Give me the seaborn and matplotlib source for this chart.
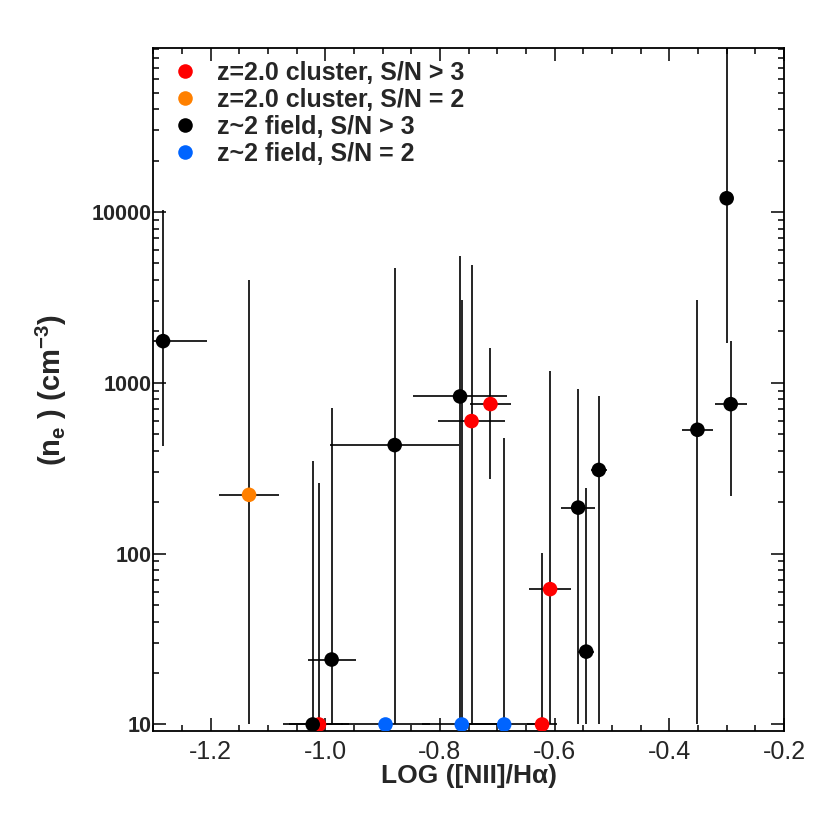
import numpy as np
import pandas as pd
import seaborn as sns
import matplotlib
matplotlib.use("Agg")
import matplotlib.pyplot as plt
from matplotlib.ticker import MultipleLocator, LogLocator, NullFormatter

# ---- data (x = log([NII]/Ha), y = n_e, errors as low/high values)
groups = ["z=2.0 cluster, S/N > 3", "z=2.0 cluster, S/N = 2",
          "z~2 field, S/N > 3", "z~2 field, S/N = 2"]
colors = ["#ff0000", "#ff8000", "#000000", "#0064ff"]

red_x = [-1.011, -0.745, -0.712, -0.608, -0.622]
red_y = [10, 597, 751, 62, 10]
red_xerr = [0.052, 0.058, 0.036, 0.036, 0.026]
red_ylo = [10, 10, 273, 10, 10]
red_yhi = [258, 4900, 1596, 1175, 101]

orange_x = [-1.133]
orange_y = [221]
orange_xerr = [0.052]
orange_ylo = [10]
orange_yhi = [4000]

black_x = [-1.283, -1.022, -0.989, -0.879, -0.765, -0.559, -0.545, -0.523, -0.351, -0.293, -0.300]
black_y = [1754, 10, 24, 432, 832, 186, 26.7, 309, 531, 750, 12030]
black_xerr = [0.076, 0.052, 0.042, 0.113, 0.082, 0.030, 0.014, 0.0145, 0.027, 0.028, 0.0]
black_ylo = [424, 10, 10, 10, 10, 10, 10, 10, 10, 218, 1714]
black_yhi = [10280, 350, 708, 4710, 5530, 923, 242, 832, 3050, 1762, 1e6]

blue_x = [-0.895, -0.762, -0.688]
blue_y = [10, 10, 10]
blue_xerr = [0.078, 0.070, 0.061]
blue_ylo = [10, 10, 10]
blue_yhi = [10, 3050, 475]

ytick_vals = [10, 100, 1000, 10000]
ytick_labels = ["10", "100", "1000", "10000"]
xtick_vals = [-1.2, -1.0, -0.8, -0.6, -0.4, -0.2]
xtick_labels = ["-1.2", "-1.0", "-0.8", "-0.6", "-0.4", "-0.2"]


def main():
    sns.set_theme(style="ticks")
    plt.rcParams['font.family'] = ['Liberation Sans', 'DejaVu Sans']
    plt.rcParams['mathtext.fontset'] = 'custom'
    plt.rcParams['mathtext.rm'] = 'Liberation Sans'
    plt.rcParams['mathtext.bf'] = 'Liberation Sans:bold'

    sets = [(red_x, red_y, red_xerr, red_ylo, red_yhi),
            (orange_x, orange_y, orange_xerr, orange_ylo, orange_yhi),
            (black_x, black_y, black_xerr, black_ylo, black_yhi),
            (blue_x, blue_y, blue_xerr, blue_ylo, blue_yhi)]

    frames = []
    for g, (x, y, xe, lo, hi) in zip(groups, sets):
        frames.append(pd.DataFrame({"x": x, "y": y, "xerr": xe, "ylo": lo, "yhi": hi, "group": g}))
    df = pd.concat(frames, ignore_index=True)

    fig = plt.figure(figsize=(8.3, 8.3), dpi=100)
    ax = fig.add_axes([0.1847, 0.1187, 0.7599, 0.8233])

    # error bars first, all black
    yerr = np.vstack([df["y"] - df["ylo"], df["yhi"] - df["y"]])
    ax.errorbar(df["x"], df["y"], xerr=df["xerr"], yerr=yerr, fmt="none",
                ecolor="black", elinewidth=1.2, capsize=0, zorder=2)

    sns.scatterplot(data=df, x="x", y="y", hue="group", hue_order=groups,
                    palette=dict(zip(groups, colors)), s=110, edgecolor="none",
                    linewidth=0, zorder=3, ax=ax)

    ax.set_yscale("log")
    ax.set_xlim(-1.3, -0.2)
    ax.set_ylim(9.1, 9.1e4)

    ax.set_xticks(xtick_vals)
    ax.set_xticklabels(xtick_labels)
    ax.xaxis.set_minor_locator(MultipleLocator(0.05))
    ax.set_yticks(ytick_vals)
    ax.set_yticklabels(ytick_labels)
    ax.yaxis.set_minor_locator(LogLocator(base=10, subs=np.arange(2, 10)))
    ax.yaxis.set_minor_formatter(NullFormatter())

    ax.tick_params(which="both", direction="in", top=True, right=True, color="black", width=1.1)
    ax.tick_params(which="major", length=9.5)
    ax.tick_params(which="minor", length=4.5)
    ax.tick_params(axis="x", labelsize=18, pad=6)
    ax.tick_params(axis="y", labelsize=15.5, pad=1.5)
    for lab in ax.get_yticklabels():
        lab.set_fontweight("bold")
    for sp in ax.spines.values():
        sp.set_linewidth(1.3)
        sp.set_color("black")

    ax.set_xlabel("LOG ([NII]/H\u03b1)", fontsize=19, fontweight="bold", labelpad=0)
    ax.set_ylabel(r"(n$_\mathbf{e}$ ) (cm$^\mathbf{-3}$)", fontsize=21, fontweight="bold", labelpad=16)

    handles, labels = ax.get_legend_handles_labels()
    ax.legend(handles, labels, loc="upper left", bbox_to_anchor=(0.03, 0.981),
              frameon=False, borderpad=0, borderaxespad=0, handlelength=1.0,
              handletextpad=0.8, labelspacing=0.12, prop={"weight": "bold", "size": 18},
              markerscale=1.0)

    fig.savefig("out.png", dpi=100)


if __name__ == "__main__":
    main()
